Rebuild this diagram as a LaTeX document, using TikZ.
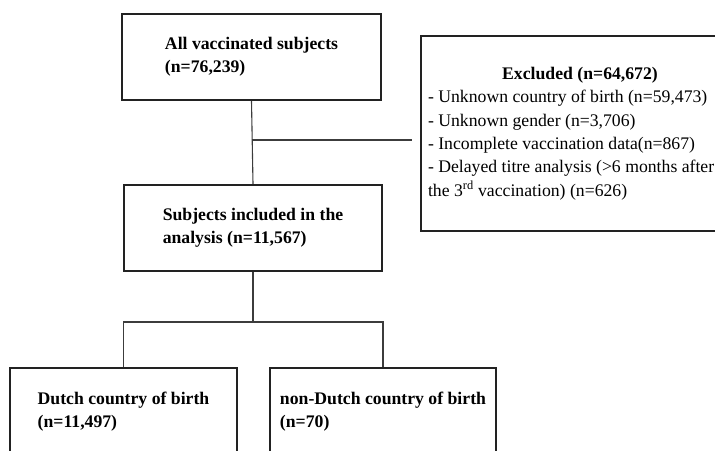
\documentclass[tikz,border=0pt]{standalone}
\usepackage{fontspec}
\setmainfont{Liberation Serif}
\usepackage{tikz}
\usetikzlibrary{calc,positioning}
\definecolor{boxBlack}{RGB}{34,34,34}
\definecolor{lineGray}{RGB}{60,60,60}

\begin{document}
\begin{tikzpicture}[x=1pt, y=-1pt,
  font=\fontsize{17.7}{23.3}\selectfont,
  flowBox/.style={draw=boxBlack, line width=2.2pt, align=flush left, inner sep=0pt},
  flowLine/.style={draw=lineGray, line width=1.1pt}]
\useasboundingbox (0,0) rectangle (715,450);
\clip (0,0) rectangle (715,450);

\node[flowBox, minimum width=259pt, minimum height=86pt] (all) at (251.5,57)
  {\textbf{All vaccinated subjects}\\\textbf{(n=76,239)}};
\node[flowBox, minimum width=258pt, minimum height=86pt] (incl) at (253,228)
  {\textbf{Subjects included in the}\\\textbf{analysis (n=11,567)}};
\node[flowBox, text width=304pt, minimum height=195pt, inner sep=7pt] (excl) at (580,133.5)
  {\makebox[\linewidth]{\textbf{Excluded (n=64,672)}}\\
   - Unknown country of birth (n=59,473)\\
   - Unknown gender (n=3,706)\\
   - Incomplete vaccination data(n=867)\\
   - Delayed titre analysis (>6 months after\\
   the 3\textsuperscript{rd} vaccination) (n=626)};
\node[flowBox, minimum width=227pt, minimum height=87pt] (dutch) at (123.5,411.5)
  {\textbf{Dutch country of birth}\\\textbf{(n=11,497)}};
\node[flowBox, minimum width=226pt, minimum height=87pt] (nondutch) at (383,411.5)
  {\textbf{non-Dutch country of birth}\\\textbf{(n=70)}};

% connectors
\coordinate (split1) at (all.south |- 0,140);
\coordinate (split2) at (incl.south |- 0,322);
\draw[flowLine] (all.south) -- (incl.north);
\draw[flowLine, shorten >=8pt] (split1) -- (excl.west |- split1);
\draw[flowLine] (incl.south) -- (split2);
\draw[flowLine] (dutch.north) |- (split2) -| (nondutch.north);
\end{tikzpicture}
\end{document}
